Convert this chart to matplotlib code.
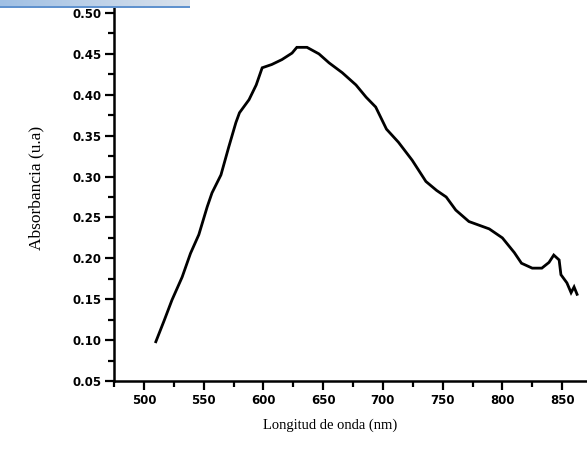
"""
plot.py
-------
UV-Vis absorbance spectrum (Absorbancia vs Longitud de onda).
Writes out.png at about 587x457 px.
"""

import numpy as np
import matplotlib
matplotlib.use("Agg")
import matplotlib.pyplot as plt
from matplotlib.ticker import MultipleLocator, FixedFormatter, FixedLocator


# Values.
wavelength_nm = [510, 517, 523.5, 532, 539, 546, 553, 557, 564.5, 571, 577,
                 580, 588, 594, 599, 607, 615.5, 624, 628, 636.5, 646.5, 655,
                 666, 677.5, 686, 694, 703, 713, 724.5, 736, 745, 753, 761,
                 772, 789, 800, 810, 816, 825, 833, 839, 843, 847.5, 849,
                 854, 857.5, 860, 862.5]
absorbance = [0.098, 0.124, 0.149, 0.177, 0.206, 0.229, 0.263, 0.280, 0.302,
              0.336, 0.366, 0.378, 0.394, 0.412, 0.433, 0.437, 0.443, 0.451,
              0.458, 0.458, 0.450, 0.439, 0.427, 0.412, 0.397, 0.385, 0.358,
              0.342, 0.320, 0.294, 0.283, 0.275, 0.259, 0.245, 0.236, 0.225,
              0.207, 0.194, 0.188, 0.188, 0.195, 0.204, 0.198, 0.180, 0.170,
              0.158, 0.165, 0.156]

x_ticks = [500, 550, 600, 650, 700, 750, 800, 850]
x_tick_labels = ["500", "550", "600", "650", "700", "750", "800", "850"]
y_ticks = [0.05, 0.10, 0.15, 0.20, 0.25, 0.30, 0.35, 0.40, 0.45, 0.50]
y_tick_labels = ["0.05", "0.10", "0.15", "0.20", "0.25", "0.30", "0.35",
                 "0.40", "0.45", "0.50"]

W, H = 587, 457


def main():
    fig = plt.figure(figsize=(W / 100, H / 100), dpi=100)
    fig.patch.set_facecolor("white")

    # Axes placed in pixel terms; the right/top edge runs off the picture.
    left, bottom = 114 / W, (H - 381) / H
    ax = fig.add_axes([left, bottom, 478 / W, 386 / H])
    ax.plot(wavelength_nm, absorbance, color="black", lw=2.0,
            solid_joinstyle="miter")

    ax.set_xlim(475, 875)
    ax.set_ylim(0.05, 0.522)

    ax.xaxis.set_major_locator(FixedLocator(x_ticks))
    ax.xaxis.set_major_formatter(FixedFormatter(x_tick_labels))
    ax.xaxis.set_minor_locator(MultipleLocator(50, offset=25))
    ax.yaxis.set_major_locator(FixedLocator(y_ticks))
    ax.yaxis.set_major_formatter(FixedFormatter(y_tick_labels))
    ax.yaxis.set_minor_locator(MultipleLocator(0.05, offset=0.025))

    for side in ("top", "right"):
        ax.spines[side].set_visible(False)
    for side in ("left", "bottom"):
        ax.spines[side].set_linewidth(1.8)

    ax.tick_params(which="major", direction="out", length=6.5, width=1.6,
                   labelsize=8.5, pad=2.5)
    ax.tick_params(which="minor", direction="out", length=4, width=1.6)
    for lbl in ax.get_xticklabels() + ax.get_yticklabels():
        lbl.set_fontweight("bold")

    fig.text(330 / W, 1 - 425 / H, "Longitud de onda (nm)",
             family="Liberation Serif", fontsize=10.5,
             ha="center", va="center")
    fig.text(36 / W, 1 - 188 / H, "Absorbancia (u.a)",
             family="Liberation Serif", fontsize=12.5, rotation=90,
             ha="center", va="center")

    # Window title-bar strip that the screenshot caught at the top left.
    bar = fig.add_axes([0, 1 - 8 / H, 190 / W, 8 / H], zorder=5)
    grad = np.linspace(0, 1, 200)
    c0 = np.array([160, 192, 228]) / 255
    c1 = np.array([218, 226, 236]) / 255
    row = c0[None, :] * (1 - grad[:, None]) + c1[None, :] * grad[:, None]
    img = np.repeat(row[None, :, :], 8, axis=0)
    img[-2:, :, :] = np.array([96, 146, 206]) / 255
    bar.imshow(img, aspect="auto", interpolation="bilinear")
    bar.axis("off")

    fig.savefig("out.png", dpi=100)
    plt.close(fig)


if __name__ == "__main__":
    main()
